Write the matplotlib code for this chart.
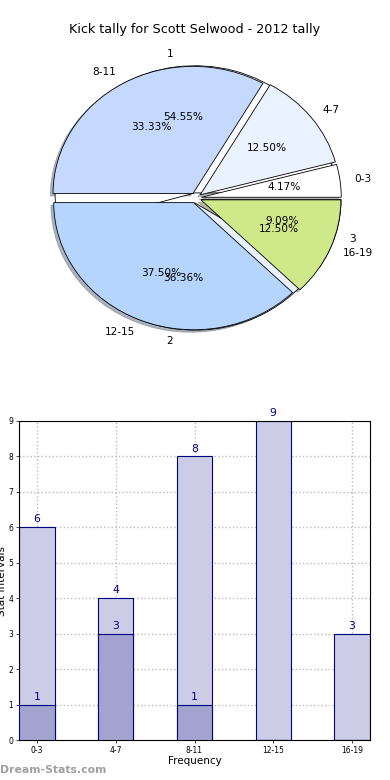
import matplotlib
matplotlib.use("Agg")
import matplotlib.pyplot as plt

# ---- data ----
title = "Kick tally for Scott Selwood - 2012 tally"
pie_labels = ["0-3", "4-7", "8-11", "12-15", "16-19"]
pie_values = [1, 3, 8, 9, 3]
pie2_labels = ["1", "2", "3"]
pie2_values = [6, 4, 1]

bar_categories = ["0-3", "4-7", "8-11", "12-15", "16-19"]
bar_series1 = [6, 4, 8, 9, 3]
bar_series2 = [1, 3, 1, 0, 0]
y_ticks = [0, 1, 2, 3, 4, 5, 6, 7, 8, 9]

palette = ["#ffffff", "#eaf2ff", "#c5d9fe", "#b5d5ff", "#cfe98a"]

fig = plt.figure(figsize=(3.9, 7.8), dpi=100)
fig.patch.set_facecolor("white")

fig.text(0.5, 1 - 30 / 780, title, ha="center", va="center", fontsize=9.2)

# ---- pie ----
axp = fig.add_axes([0.0535, 0.5425, 0.897, 0.4075])
wp = dict(edgecolor="black", linewidth=0.6)
axp.pie(pie2_values, labels=pie2_labels, colors=palette[:3], autopct="%.2f%%",
        explode=[0.04] * 3, shadow=False, wedgeprops=wp,
        textprops=dict(fontsize=7.6))
axp.pie(pie_values, labels=pie_labels, colors=palette, autopct="%.2f%%",
        explode=[0.04] * 5, shadow={"ox": -0.014, "oy": -0.014, "shade": 0.5},
        wedgeprops=wp, textprops=dict(fontsize=7.6))
axp.set_aspect("auto")
axp.set_xlim(-1.25, 1.25)
axp.set_ylim(-1.25, 1.25)
axp.axis("off")

# ---- bars ----
axb = fig.add_axes([19 / 390, 1 - 740 / 780, 351 / 390, 319 / 780])
x = list(range(len(bar_categories)))
w = 0.45
navy = "#000080"
axb.bar(x, bar_series1, width=w, color="#cccce6", edgecolor=navy, linewidth=0.8, zorder=2)
axb.bar(x, bar_series2, width=w, color="#a3a3cf", edgecolor=navy, linewidth=0.8, zorder=3)
for xi, v in zip(x, bar_series1):
    if v > 0:
        axb.text(xi, v + 0.08, str(v), ha="center", va="bottom", color=navy, fontsize=7.8, zorder=4)
for xi, v in zip(x, bar_series2):
    if v > 0:
        axb.text(xi, v + 0.08, str(v), ha="center", va="bottom", color=navy, fontsize=7.8, zorder=4)

axb.set_xlim(-0.229, 4.229)
axb.set_ylim(0, 9)
axb.set_xticks(x)
axb.set_xticklabels(bar_categories)
axb.set_yticks(y_ticks)
axb.tick_params(axis="both", labelsize=5.5, length=2, width=0.5, pad=2)
axb.grid(True, linestyle=":", color="#bbbbbb", linewidth=1.0, zorder=0)
axb.set_axisbelow(True)
for s in axb.spines.values():
    s.set_linewidth(0.8)
axb.set_xlabel("Frequency", fontsize=7.5, labelpad=1)
axb.set_ylabel("Stat Intervals", fontsize=7.5, labelpad=1)

fig.text(0.0, 1 - 770 / 780, "Dream-Stats.com", ha="left", va="center",
         fontsize=7.8, color="#a0a0a0", fontweight="bold")

fig.savefig("out.png", dpi=100)
